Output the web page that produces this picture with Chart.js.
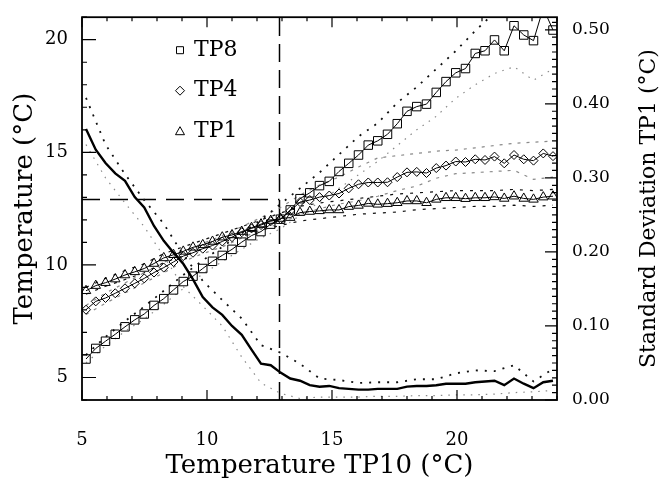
<!DOCTYPE html>
<html>
<head>
<meta charset="utf-8">
<title>Temperature vs TP10</title>
<script src="https://cdn.jsdelivr.net/npm/chart.js@4.4.1/dist/chart.umd.min.js"></script>
<style>
  html, body { margin: 0; padding: 0; background: #fff; }
  canvas { display: block; }
</style>
</head>
<body>
<canvas id="chart" width="662" height="483"></canvas>
<script>
/* ── 1. DATA ── */
// bin centres on the TP10 axis (°C)
const X = [5.16, 5.55, 5.94, 6.33, 6.72, 7.11, 7.49, 7.88, 8.27, 8.66,
           9.05, 9.44, 9.83, 10.22, 10.61, 11.00, 11.39, 11.78, 12.16, 12.55,
           12.94, 13.33, 13.72, 14.11, 14.50, 14.89, 15.28, 15.67, 16.06, 16.45,
           16.83, 17.22, 17.61, 18.00, 18.39, 18.78, 19.17, 19.56, 19.95, 20.34,
           20.73, 21.12, 21.50, 21.89, 22.28, 22.67, 23.06, 23.45, 23.84];

const TP8 = [5.82, 6.29, 6.61, 6.92, 7.25, 7.56, 7.82, 8.20, 8.50, 8.89,
             9.26, 9.50, 9.84, 10.16, 10.42, 10.69, 11.01, 11.30, 11.48, 11.81,
             12.03, 12.44, 12.94, 13.20, 13.52, 13.71, 14.15, 14.51, 14.88, 15.32,
             15.51, 15.80, 16.27, 16.82, 17.03, 17.14, 17.66, 18.14, 18.53, 18.72,
             19.39, 19.51, 19.99, 19.51, 20.62, 20.21, 19.96, 21.40, 20.43];

const TP4 = [8.01, 8.38, 8.53, 8.74, 8.96, 9.18, 9.40, 9.66, 9.88, 10.13,
             10.39, 10.54, 10.72, 10.86, 11.04, 11.23, 11.45, 11.62, 11.77, 11.94,
             12.03, 12.40, 12.79, 12.88, 13.01, 13.08, 13.17, 13.40, 13.58, 13.66,
             13.66, 13.67, 13.90, 14.11, 14.13, 14.08, 14.30, 14.41, 14.59, 14.57,
             14.69, 14.66, 14.81, 14.51, 14.88, 14.69, 14.63, 14.95, 14.83];

const TP1 = [8.85, 9.08, 9.21, 9.37, 9.55, 9.69, 9.84, 10.06, 10.31, 10.45,
             10.60, 10.78, 10.89, 11.04, 11.23, 11.33, 11.48, 11.65, 11.81, 11.97,
             12.06, 12.10, 12.32, 12.37, 12.40, 12.44, 12.44, 12.59, 12.64, 12.73,
             12.69, 12.72, 12.76, 12.84, 12.84, 12.76, 12.91, 12.98, 12.98, 12.94,
             12.98, 12.98, 13.02, 12.95, 13.05, 12.95, 12.91, 13.01, 13.05];

// standard deviation of TP1 (right axis)
const SD_TP1 = [0.366, 0.338, 0.320, 0.306, 0.296, 0.274, 0.260, 0.235, 0.215, 0.199,
                0.184, 0.163, 0.139, 0.125, 0.115, 0.100, 0.088, 0.068, 0.049, 0.047,
                0.037, 0.029, 0.026, 0.020, 0.018, 0.019, 0.016, 0.015, 0.014, 0.014,
                0.015, 0.015, 0.015, 0.018, 0.019, 0.019, 0.020, 0.022, 0.022, 0.022,
                0.024, 0.025, 0.026, 0.020, 0.029, 0.022, 0.016, 0.024, 0.026];

// envelopes, read on every second bin
const BAND_X = [5.16, 5.94, 6.72, 7.49, 8.27, 9.05, 9.83, 10.61, 11.39, 12.16,
                12.94, 13.72, 14.50, 15.28, 16.06, 16.83, 17.61, 18.39, 19.17, 19.95,
                20.73, 21.50, 22.28, 23.06, 23.84];

const TP8_HI = [6.0, 6.8, 7.5, 8.15, 8.85, 9.55, 10.2, 10.8, 11.4, 12.0,
                12.7, 13.4, 14.1, 14.9, 15.7, 16.3, 17.2, 17.9, 18.7, 19.5,
                20.4, 21.2, 21.9, 22.5, 23.0];
const TP8_LO = [5.65, 6.4, 7.05, 7.6, 8.25, 8.95, 9.6, 10.15, 10.7, 11.2,
                11.6, 12.2, 12.8, 13.4, 14.0, 14.6, 15.3, 16.0, 16.6, 17.4,
                18.0, 18.5, 18.8, 18.2, 18.7];
const TP4_HI = [8.2, 8.75, 9.2, 9.65, 10.1, 10.6, 10.95, 11.3, 11.7, 12.1,
                12.55, 13.1, 13.55, 13.9, 14.35, 14.75, 14.85, 14.95, 15.05, 15.1,
                15.2, 15.3, 15.4, 15.45, 15.5];
const TP4_LO = [7.8, 8.3, 8.75, 9.2, 9.65, 10.15, 10.5, 10.8, 11.2, 11.55,
                11.85, 12.25, 12.5, 12.7, 12.85, 13.05, 13.3, 13.5, 13.85, 14.05,
                14.1, 14.15, 14.2, 13.8, 13.9];
const TP1_HI = [9.0, 9.4, 9.75, 10.05, 10.5, 10.8, 11.1, 11.4, 11.7, 12.0,
                12.3, 12.6, 12.75, 12.85, 12.95, 13.05, 13.15, 13.2, 13.25, 13.3,
                13.3, 13.3, 13.35, 13.3, 13.35];
const TP1_LO = [8.7, 9.05, 9.35, 9.65, 10.1, 10.4, 10.7, 11.0, 11.25, 11.55,
                11.75, 11.95, 12.05, 12.15, 12.25, 12.3, 12.35, 12.45, 12.5, 12.55,
                12.6, 12.6, 12.65, 12.6, 12.65];
const SD_HI = [0.408, 0.345, 0.305, 0.270, 0.238, 0.196, 0.161, 0.135, 0.110, 0.074,
               0.064, 0.049, 0.029, 0.027, 0.023, 0.024, 0.024, 0.028, 0.028, 0.036,
               0.040, 0.039, 0.047, 0.025, 0.042];
const SD_LO = [0.345, 0.300, 0.266, 0.234, 0.194, 0.153, 0.127, 0.100, 0.058, 0.023,
               0.009, 0.002, 0.004, 0.004, 0.004, 0.005, 0.005, 0.006, 0.006, 0.007,
               0.007, 0.008, 0.010, 0.011, 0.013];

// axes
const X_RANGE  = [5, 24];
const Y_RANGE  = [4, 21];
const SD_RANGE = [0, 0.517];
const X_TICKS  = [5, 10, 15, 20];
const Y_TICKS  = [5, 10, 15, 20];
const SD_TICKS = [0, 0.1, 0.2, 0.3, 0.4, 0.5];
const REF_T    = 12.9;   // dashed cross-hair, °C

const RIGHT_TITLE = 'Standard Deviation TP1 (°C)';
const SERIF = "'DejaVu Serif', 'Liberation Serif', serif";

/* ── 2. HELPERS ── */
const pts = (xs, ys) => xs.map((x, i) => ({ x, y: ys[i] }));

const band = (data, dark, dash, axis = 'y', w) => ({
  data, yAxisID: axis, showLine: true, pointRadius: 0,
  borderColor: dark ? '#111' : '#8a8a8a',
  borderWidth: w || (dark ? 1.8 : 1.2),
  borderDash: dash, tension: 0
});

const marked = (label, data, style, r) => ({
  label, data, yAxisID: 'y', showLine: true,
  borderColor: '#000', borderWidth: 1,
  pointStyle: style, pointRadius: r,
  pointBorderColor: '#000', pointBorderWidth: 1,
  pointBackgroundColor: 'rgba(0,0,0,0)', tension: 0,
  legendMark: true
});

/* ── 3. FRAME + TICKS PLUGIN ── */
const framePlugin = {
  id: 'frame',
  afterDatasetsDraw(chart) {
    const { ctx, chartArea: a, scales: { x, y, y1 } } = chart;
    ctx.save();
    ctx.strokeStyle = '#000';
    ctx.lineWidth = 1.8;
    ctx.strokeRect(a.left, a.top, a.right - a.left, a.bottom - a.top);

    ctx.lineWidth = 1.2;
    ctx.beginPath();
    for (let v = X_RANGE[0]; v <= X_RANGE[1]; v++) {
      const px = x.getPixelForValue(v);
      const len = v % 5 === 0 ? 10 : 4;
      ctx.moveTo(px, a.bottom); ctx.lineTo(px, a.bottom - len);
      ctx.moveTo(px, a.top);    ctx.lineTo(px, a.top + len);
    }
    for (let v = Y_RANGE[0]; v <= Y_RANGE[1]; v++) {
      const py = y.getPixelForValue(v);
      const len = v % 5 === 0 ? 14 : 5;
      ctx.moveTo(a.left, py); ctx.lineTo(a.left + len, py);
    }
    for (let k = 0; k <= 51; k++) {
      const py = y1.getPixelForValue(k / 100);
      const len = k % 10 === 0 ? 12 : 5;
      ctx.moveTo(a.right, py); ctx.lineTo(a.right - len, py);
    }
    ctx.stroke();
    ctx.restore();
  },
  afterDraw(chart) {
    const { ctx, chartArea: a, scales: { y1 } } = chart;
    ctx.save();
    ctx.fillStyle = '#000';

    // right axis title, reading bottom to top
    ctx.translate(y1.right - 13, (a.top + a.bottom) / 2);
    ctx.rotate(-Math.PI / 2);
    ctx.font = '22px ' + SERIF;
    ctx.textAlign = 'center';
    ctx.textBaseline = 'middle';
    ctx.fillText(RIGHT_TITLE, 0, 0);
    ctx.restore();

    // legend inside the plot
    ctx.save();
    ctx.font = '22px ' + SERIF;
    ctx.textBaseline = 'middle';
    ctx.strokeStyle = '#000';
    ctx.lineWidth = 1;
    const marks = chart.data.datasets.filter(d => d.legendMark);
    marks.forEach((d, i) => {
      const mx = a.left + 98, my = a.top + 33 + i * 40.5;
      ctx.beginPath();
      if (d.pointStyle === 'rect') ctx.rect(mx - 3.5, my - 3.5, 7, 7);
      else if (d.pointStyle === 'rectRot') {
        ctx.moveTo(mx, my - 4.5); ctx.lineTo(mx + 4.5, my);
        ctx.lineTo(mx, my + 4.5); ctx.lineTo(mx - 4.5, my); ctx.closePath();
      } else {
        ctx.moveTo(mx, my - 4.5); ctx.lineTo(mx + 4.5, my + 3.5);
        ctx.lineTo(mx - 4.5, my + 3.5); ctx.closePath();
      }
      ctx.stroke();
      ctx.fillText(d.label, mx + 14, my);
    });
    ctx.restore();
  }
};

/* ── 4. CHART ── */
Chart.defaults.font.family = SERIF;
Chart.defaults.color = '#000';

new Chart(document.getElementById('chart'), {
  type: 'scatter',
  data: {
    datasets: [
      marked('TP8', pts(X, TP8), 'rect', 6),
      marked('TP4', pts(X, TP4), 'rectRot', 4.5),
      marked('TP1', pts(X, TP1), 'triangle', 5.5),
      { data: pts(X, SD_TP1), yAxisID: 'y1', showLine: true, pointRadius: 0,
        borderColor: '#000', borderWidth: 2.4, tension: 0 },
      band(pts(BAND_X, TP8_HI), true,  [2, 7]),
      band(pts(BAND_X, TP8_LO), false, [1.5, 6]),
      band(pts(BAND_X, TP4_HI), false, [3, 6]),
      band(pts(BAND_X, TP4_LO), false, [3, 6]),
      band(pts(BAND_X, TP1_HI), true,  [3, 7], 'y', 1.2),
      band(pts(BAND_X, TP1_LO), true,  [3, 7], 'y', 1.2),
      band(pts(BAND_X, SD_HI),  true,  [2, 7], 'y1'),
      band(pts(BAND_X, SD_LO),  false, [1.5, 6], 'y1'),
      // dashed cross-hair at REF_T
      { data: [{ x: X_RANGE[0], y: REF_T }, { x: REF_T, y: REF_T }], yAxisID: 'y',
        showLine: true, pointRadius: 0, borderColor: '#000', borderWidth: 1.5,
        borderDash: [18, 10] },
      { data: [{ x: REF_T, y: Y_RANGE[0] }, { x: REF_T, y: Y_RANGE[1] }], yAxisID: 'y',
        showLine: true, pointRadius: 0, borderColor: '#000', borderWidth: 1.5,
        borderDash: [18, 8] }
    ]
  },
  options: {
    responsive: false,
    animation: false,
    layout: { padding: { top: 12, left: 0, right: 0, bottom: 0 } },
    plugins: { legend: { display: false }, tooltip: { enabled: false } },
    scales: {
      x: {
        type: 'linear', position: 'bottom',
        min: X_RANGE[0], max: X_RANGE[1],
        afterBuildTicks: s => { s.ticks = X_TICKS.map(v => ({ value: v })); },
        afterFit: s => { s.height = 83; },
        grid: { display: false }, border: { display: false },
        ticks: { font: { size: 18 }, padding: 22, maxRotation: 0 },
        title: { display: true, text: 'Temperature TP10 (°C)',
                 font: { size: 26 }, padding: { top: 0, bottom: 1 } }
      },
      y: {
        type: 'linear', position: 'left',
        min: Y_RANGE[0], max: Y_RANGE[1],
        afterBuildTicks: s => { s.ticks = Y_TICKS.map(v => ({ value: v })); },
        afterFit: s => { s.width = 82; },
        grid: { display: false }, border: { display: false },
        ticks: { font: { size: 18 }, padding: 6 },
        title: { display: true, text: 'Temperature (°C)',
                 font: { size: 26 }, padding: { top: 10, bottom: 0 } }
      },
      y1: {
        type: 'linear', position: 'right',
        min: SD_RANGE[0], max: SD_RANGE[1],
        afterBuildTicks: s => { s.ticks = SD_TICKS.map(v => ({ value: v })); },
        afterFit: s => { s.width = 105; },
        grid: { display: false }, border: { display: false },
        ticks: { font: { size: 17 }, padding: 7, callback: v => v.toFixed(2) }
      }
    }
  },
  plugins: [framePlugin]
});
</script>
</body>
</html>
